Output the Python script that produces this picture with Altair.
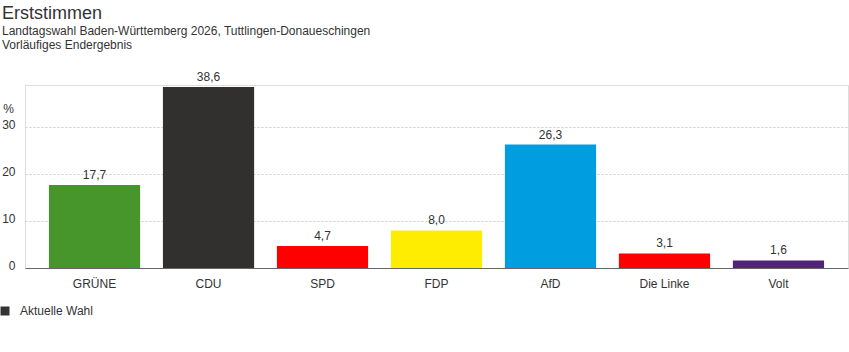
import altair as alt
import pandas as pd

parteien = ["GRÜNE", "CDU", "SPD", "FDP", "AfD", "Die Linke", "Volt"]
werte = [17.7, 38.6, 4.7, 8.0, 26.3, 3.1, 1.6]
farben = ["#46962b", "#32302e", "#ff0000", "#ffed00", "#009ee0", "#ff0000", "#502379"]
labels = ["17,7", "38,6", "4,7", "8,0", "26,3", "3,1", "1,6"]
serie = "Aktuelle Wahl"

df = pd.DataFrame({
    "partei": parteien,
    "wert": werte,
    "farbe": farben,
    "label": labels,
    "serie": [serie] * len(parteien),
})

FONT = "Liberation Sans"

x = alt.X(
    "partei:N",
    sort=parteien,
    scale=alt.Scale(paddingInner=0.2, paddingOuter=0.21),
    axis=alt.Axis(
        title=None, labelAngle=0, ticks=False, domainColor="#666666",
        labelColor="#333333", labelFontSize=12, labelPadding=10, labelFont=FONT,
    ),
)
y = alt.Y(
    "wert:Q",
    scale=alt.Scale(domain=[0, 39], nice=False),
    axis=alt.Axis(
        title="%", titleAngle=0, titleX=-17, titleY=23, titleAlign="center",
        titleBaseline="middle",
        titleFontWeight="normal", titleFontSize=12, titleColor="#333333", titleFont=FONT,
        values=[0, 10, 20, 30], domain=False, ticks=False, labelPadding=10,
        labelOffset=-3,
        labelColor="#333333", labelFontSize=12, labelFont=FONT,
        gridColor="#cccccc", gridDash=[2, 2],
    ),
)

bars = alt.Chart(df).mark_bar().encode(
    x=x, y=y, color=alt.Color("farbe:N", scale=None)
)

text = alt.Chart(df).mark_text(dy=-10, fontSize=12, font=FONT).encode(
    x=x,
    y=y,
    text="label:N",
    color=alt.Color(
        "serie:N",
        scale=alt.Scale(range=["#333333"]),
        legend=alt.Legend(
            title=None, orient="none", legendX=-26, legendY=220,
            symbolType="square", symbolSize=81, symbolFillColor="#333333",
            symbolStrokeWidth=0, labelFontSize=12, labelColor="#333333",
            labelFont=FONT, padding=0, labelOffset=9,
        ),
    ),
)

chart = alt.layer(bars, text).properties(
    width=823,
    height=183,
    autosize=alt.AutoSizeParams(type="none"),
    padding={"left": 25, "top": 85, "right": 1, "bottom": 84},
    title=alt.Title(
        "Erststimmen",
        subtitle=["Landtagswahl Baden-Württemberg 2026, Tuttlingen-Donaueschingen", "Vorläufiges Endergebnis"],
        anchor="start", frame="group", dx=-23, offset=20,
        fontSize=18, fontWeight="normal", color="#333333", font=FONT,
        subtitleFontSize=12, subtitleColor="#333333", subtitleFont=FONT,
        subtitlePadding=3, subtitleLineHeight=14,
    ),
).configure_view(stroke="transparent", strokeWidth=0).configure(background="white")

chart.save("out.html", embed_options={"renderer": "svg", "actions": False})
